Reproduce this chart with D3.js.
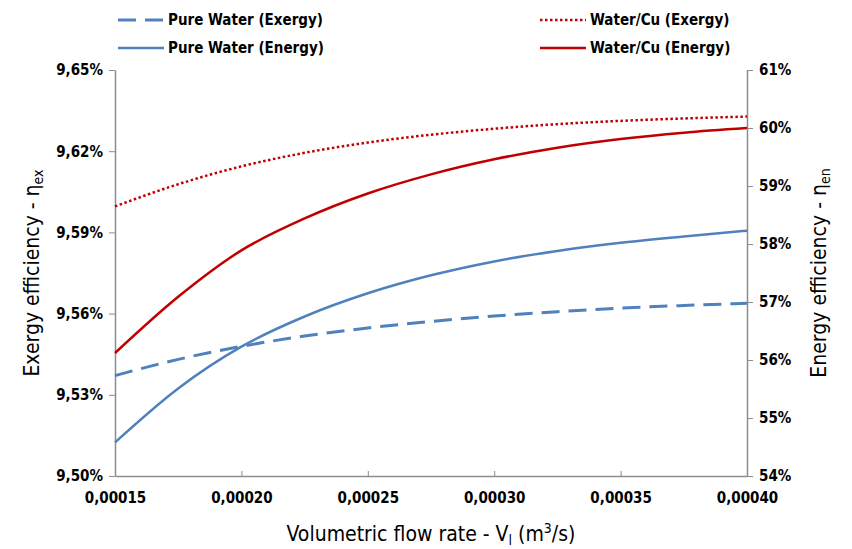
<!DOCTYPE html>
<html>
<head>
<meta charset="utf-8">
<script src="https://cdn.jsdelivr.net/npm/d3@7"></script>
<style>
  body { margin: 0; background: #fff; }
  svg text { font-family: "Liberation Sans Narrow", "DejaVu Sans Condensed", "Open Sans", sans-serif; }
</style>
</head>
<body>
<div id="chart"></div>
<script>
// flow rate (m3/s)
const flow = [0.00015, 0.000175, 0.0002, 0.000225, 0.00025, 0.000275, 0.0003, 0.000325, 0.00035, 0.000375, 0.0004];
// exergy efficiency (%), left axis
const pure_exergy = [9.5371, 9.5431, 9.5479, 9.5517, 9.5547, 9.5571, 9.5591, 9.5607, 9.5620, 9.5630, 9.5638];
const cu_exergy = [9.5996, 9.6078, 9.6144, 9.6194, 9.6232, 9.6261, 9.6283, 9.6300, 9.6312, 9.6321, 9.6328];
// energy efficiency (%), right axis
const pure_energy = [54.58, 55.51, 56.23, 56.75, 57.15, 57.46, 57.70, 57.88, 58.02, 58.13, 58.23];
const cu_energy = [56.12, 57.09, 57.89, 58.44, 58.87, 59.20, 59.46, 59.66, 59.81, 59.92, 60.00];

const x_ticks = [0.00015, 0.0002, 0.00025, 0.0003, 0.00035, 0.0004];
const left_ticks = [9.50, 9.53, 9.56, 9.59, 9.62, 9.65];
const right_ticks = [54, 55, 56, 57, 58, 59, 60, 61];

const width = 852, height = 549;
const margin = {top: 70, bottom: 73, left: 115, right: 105};

const svg = d3.select("#chart").append("svg")
    .attr("width", width)
    .attr("height", height);

const x = d3.scaleLinear()
    .domain([0.00015, 0.0004])
    .range([margin.left, width - margin.right]);
const yl = d3.scaleLinear()
    .domain([9.50, 9.65])
    .range([height - margin.bottom, margin.top]);
const yr = d3.scaleLinear()
    .domain([54, 61])
    .range([height - margin.bottom, margin.top]);

const axis_color = "#8c8c8c";
const blue = "#4f81bd", red = "#c00000";
const comma = s => s.replace(".", ",");

function style_axis(g) {
    g.select(".domain").attr("stroke", axis_color).attr("stroke-width", 1.5);
    g.selectAll(".tick line").attr("stroke", axis_color);
    g.selectAll(".tick text").attr("fill", "#000").attr("font-size", "15px").attr("font-weight", "bold");
}

svg.append("g")
    .attr("transform", `translate(0,${height - margin.bottom})`)
    .call(d3.axisBottom(x).tickValues(x_ticks).tickFormat(d => comma(d.toFixed(5))).tickSizeInner(-5).tickSizeOuter(0).tickPadding(16))
    .call(style_axis);

svg.append("g")
    .attr("transform", `translate(${margin.left},0)`)
    .call(d3.axisLeft(yl).tickValues(left_ticks).tickFormat(d => comma(d.toFixed(2)) + "%").tickSizeInner(6).tickSizeOuter(0).tickPadding(6))
    .call(style_axis);

svg.append("g")
    .attr("transform", `translate(${width - margin.right},0)`)
    .call(d3.axisRight(yr).tickValues(right_ticks).tickFormat(d => d + "%").tickSizeInner(6).tickSizeOuter(0).tickPadding(6))
    .call(style_axis);

const series = [
    {name: "Pure Water (Exergy)", data: pure_exergy, y: yl, color: blue, dash: "18,9", w: 3},
    {name: "Pure Water (Energy)", data: pure_energy, y: yr, color: blue, dash: null, w: 2.5},
    {name: "Water/Cu (Exergy)", data: cu_exergy, y: yl, color: red, dash: "2.5,2.5", w: 2.5},
    {name: "Water/Cu (Energy)", data: cu_energy, y: yr, color: red, dash: null, w: 2.5}
];

for (const s of series) {
    const line = d3.line()
        .x((d, i) => x(flow[i]))
        .y(d => s.y(d))
        .curve(d3.curveMonotoneX);
    svg.append("path")
        .datum(s.data)
        .attr("fill", "none")
        .attr("stroke", s.color)
        .attr("stroke-width", s.w)
        .attr("stroke-dasharray", s.dash)
        .attr("d", line);
}

// legend
const legend_pos = [[118, 20], [118, 48], [540, 20], [540, 48]];
series.forEach((s, i) => {
    const g = svg.append("g").attr("transform", `translate(${legend_pos[i][0]},${legend_pos[i][1]})`);
    g.append("line")
        .attr("x1", 0).attr("x2", 46).attr("y1", 0).attr("y2", 0)
        .attr("stroke", s.color)
        .attr("stroke-width", s.w)
        .attr("stroke-dasharray", s.dash);
    g.append("text")
        .attr("x", 50).attr("y", 0).attr("dy", "0.35em")
        .attr("font-size", "15px").attr("font-weight", "bold")
        .text(s.name);
});

// axis titles
const lt = svg.append("text")
    .attr("transform", `translate(39,${(margin.top + height - margin.bottom) / 2}) rotate(-90)`)
    .attr("text-anchor", "middle").attr("font-size", "21px");
lt.append("tspan").text("Exergy efficiency - η");
lt.append("tspan").attr("font-size", "14px").attr("dy", "4").text("ex");

const rt = svg.append("text")
    .attr("transform", `translate(826,${(margin.top + height - margin.bottom) / 2}) rotate(-90)`)
    .attr("text-anchor", "middle").attr("font-size", "21px");
rt.append("tspan").text("Energy efficiency - η");
rt.append("tspan").attr("font-size", "14px").attr("dy", "4").text("en");

const xt = svg.append("text")
    .attr("x", (margin.left + width - margin.right) / 2).attr("y", 541)
    .attr("text-anchor", "middle").attr("font-size", "21px");
xt.append("tspan").text("Volumetric flow rate - V");
xt.append("tspan").attr("font-size", "14px").attr("dy", "4").text("l");
xt.append("tspan").attr("dy", "-4").text(" (m");
xt.append("tspan").attr("font-size", "14px").attr("dy", "-8").text("3");
xt.append("tspan").attr("dy", "8").text("/s)");
</script>
</body>
</html>
